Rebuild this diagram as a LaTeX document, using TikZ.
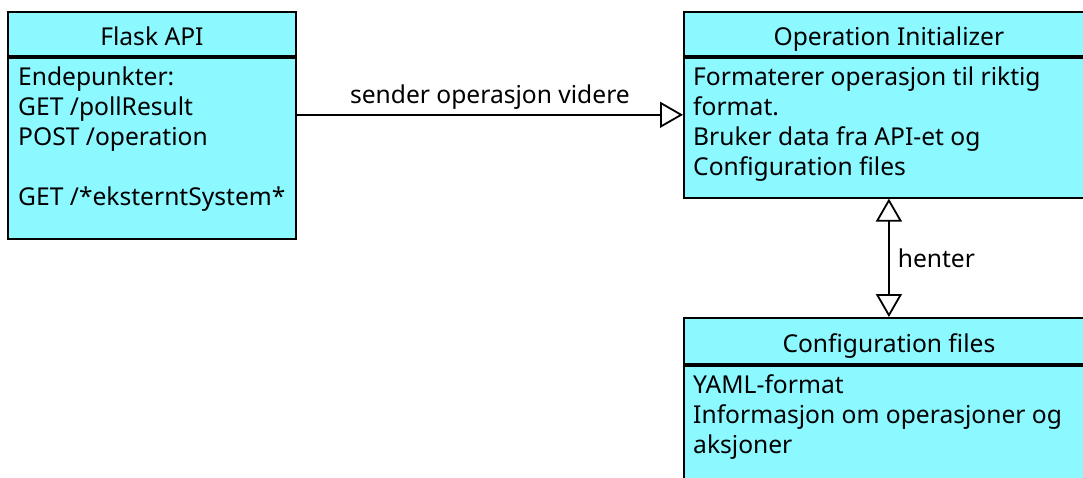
\documentclass[tikz,border=0pt]{standalone}
\usepackage{fontspec}
\setmainfont{Noto Sans}
\usetikzlibrary{positioning,arrows.meta,calc}
\definecolor{boxcyan}{RGB}{140,248,255}

\begin{document}
\begin{tikzpicture}[x=1pt, y=-1pt, font=\fontsize{24.6}{30}\selectfont]
    \tikzstyle{head} = [rectangle, draw=black, line width=1.8pt, fill=boxcyan, anchor=north west, inner sep=0pt, text height=24pt, text depth=0pt, text centered]
    \tikzstyle{body} = [rectangle, draw=black, line width=1.8pt, fill=boxcyan, anchor=north west, inner sep=0pt]
    \tikzstyle{txt} = [anchor=north west, inner sep=0pt, align=left]
    \tikzstyle{link} = [line width=1.8pt, -{Triangle[open, length=23pt, width=26pt]}]
    \tikzstyle{twoway} = [line width=1.8pt, {Triangle[open, length=23pt, width=26pt]}-{Triangle[open, length=23pt, width=26pt]}]

    \useasboundingbox (0,0) rectangle (1083,477);
    \clip (0,0) rectangle (1083,477);

    % Flask API
    \node [head, minimum width=288pt, minimum height=44pt] (flaskhead) at (7,11) {Flask API};
    \node [body, minimum width=288pt, minimum height=181pt] (flaskbody) at (flaskhead.south west) {};
    \node [txt] (flasktext) at (18,67) {Endepunkter:\\GET /pollResult\\POST /operation\\[30pt]GET /*eksterntSystem*};

    % Operation Initializer
    \node [head, minimum width=410pt, minimum height=44pt] (inithead) at (683,11) {Operation Initializer};
    \node [body, minimum width=410pt, minimum height=140pt] (initbody) at (inithead.south west) {};
    \node [txt] (inittext) at (693,67) {Formaterer operasjon til riktig\\format.\\Bruker data fra API-et og\\Configuration files};

    % Configuration files
    \node [head, minimum width=410pt, minimum height=46pt] (confhead) at (683,317) {Configuration files};
    \node [body, minimum width=410pt, minimum height=140pt] (confbody) at (confhead.south west) {};
    \node [txt] (conftext) at (693,374) {YAML-format\\Informasjon om operasjoner og\\aksjoner};

    % Arrows
    \draw [link] ([yshift=-58pt]flaskbody.north east) -- node [above, inner sep=4pt] (sendlabel) {sender operasjon videre} ([yshift=-58pt]initbody.north west);
    \draw [twoway] (initbody.south) -- node [right, inner sep=8pt] (henterlabel) {henter} (confhead.north);
\end{tikzpicture}
\end{document}
